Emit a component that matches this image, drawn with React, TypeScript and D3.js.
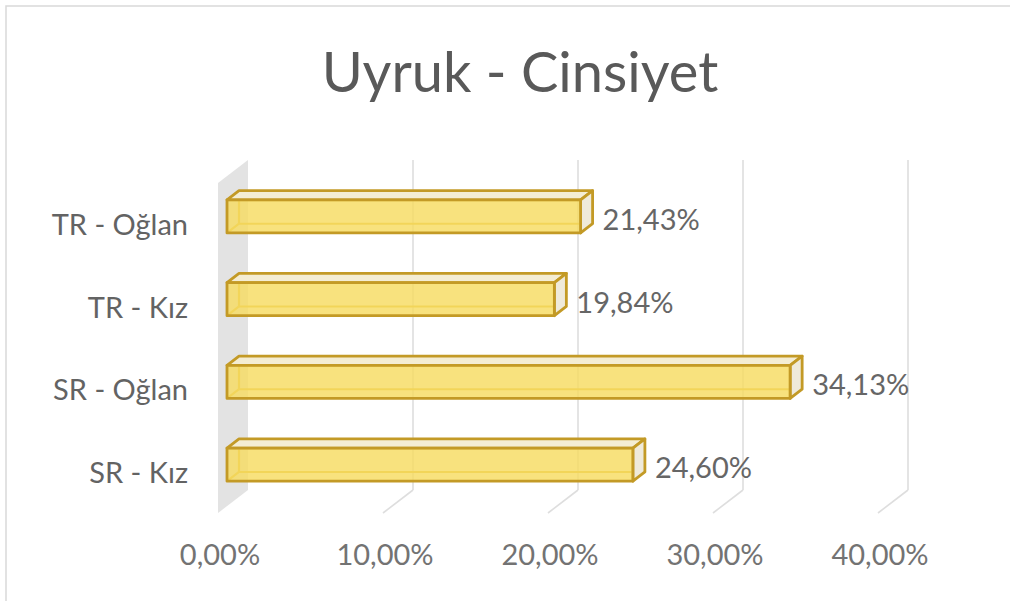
import React from "react";
import * as d3 from "d3";

const categories = ["TR - Oğlan", "TR - Kız", "SR - Oğlan", "SR - Kız"];
const values = [21.43, 19.84, 34.13, 24.6];
const tickValues = [0, 10, 20, 30, 40];
const title = "Uyruk - Cinsiyet";

const W = 1010;
const H = 601;
const fmt = (v: number) => v.toFixed(2).replace(".", ",") + "%";

const NUM_FONT = "'Liberation Sans Narrow', Lato, sans-serif";
const TXT_FONT = "Lato, 'Open Sans', sans-serif";

export default function App() {
  const x = d3.scaleLinear().domain([0, 40]).range([218, 878]);
  const y = d3
    .scaleBand<string>()
    .domain(categories)
    .range([175, 506])
    .paddingInner(0.6)
    .paddingOuter(0.3);
  const bw = y.bandwidth();

  // depth vector of the 3D box (front floor -> back wall)
  const DX = 30;
  const DY = -23;
  const floorFront = 513;
  const wallTopFront = 183;
  const f0 = 0.3;
  const f1 = 0.7;
  const bdx = DX * (f1 - f0);
  const bdy = DY * (f1 - f0);

  const gold = "#C39A26";
  const pts = (p: [number, number][]) => p.map((q) => q.join(",")).join(" ");

  return (
    <svg
      width={W}
      height={H}
      style={{ position: "absolute", left: 0, top: 0, background: "#fff" }}
    >
      <rect x={6} y={6} width={W} height={H} fill="#fff" stroke="#d9d9d9" strokeWidth={1.5} />
      <text
        x={520}
        y={92}
        textAnchor="middle"
        fontFamily={TXT_FONT}
        fontSize={56}
        fill="#595959"
      >
        {title}
      </text>

      {/* side wall */}
      <polygon
        points={pts([
          [x(0), floorFront],
          [x(0) + DX, floorFront + DY],
          [x(0) + DX, wallTopFront + DY],
          [x(0), wallTopFront],
        ])}
        fill="#e3e3e3"
      />
      {/* gridlines: back wall + floor */}
      {tickValues.slice(1).map((t) => (
        <g key={t} stroke="#dedede" strokeWidth={1.6} fill="none">
          <line x1={x(t) + DX} x2={x(t) + DX} y1={wallTopFront + DY} y2={floorFront + DY} />
          <line x1={x(t) + DX} x2={x(t)} y1={floorFront + DY} y2={floorFront} />
        </g>
      ))}

      {/* bars */}
      {categories.map((c, i) => {
        const v = values[i];
        const x0 = x(0) + DX * f0;
        const x1 = x(v) + DX * f0;
        const yt = y(c)!;
        const yb = yt + bw;
        return (
          <g key={c} strokeLinejoin="round">
            {/* hidden back edges */}
            <g stroke="#DDB536" strokeWidth={2.2} fill="none">
              <line x1={x0 + bdx} y1={yt + bdy} x2={x0 + bdx} y2={yb + bdy} />
              <line x1={x0 + bdx} y1={yb + bdy} x2={x1 + bdx} y2={yb + bdy} />
              <line x1={x0} y1={yb} x2={x0 + bdx} y2={yb + bdy} />
            </g>
            {/* top face */}
            <polygon
              points={pts([
                [x0, yt],
                [x0 + bdx, yt + bdy],
                [x1 + bdx, yt + bdy],
                [x1, yt],
              ])}
              fill="#F4EDD3"
              stroke={gold}
              strokeWidth={2.8}
            />
            {/* end face */}
            <polygon
              points={pts([
                [x1, yt],
                [x1 + bdx, yt + bdy],
                [x1 + bdx, yb + bdy],
                [x1, yb],
              ])}
              fill="#EFEADA"
              stroke={gold}
              strokeWidth={2.8}
            />
            {/* front face */}
            <rect
              x={x0}
              y={yt}
              width={x1 - x0}
              height={bw}
              fill="#F7DC62"
              fillOpacity={0.82}
              stroke={gold}
              strokeWidth={2.8}
            />
            <text
              x={x(v) + DX * f1 + 10}
              y={yt + bw / 2 + 2}
              dominantBaseline="central"
              fontFamily={NUM_FONT}
              fontSize={29}
              fill="#666"
            >
              {fmt(v)}
            </text>
            <text
              x={188}
              y={yt + bw / 2 + 18.5}
              textAnchor="end"
              fontFamily={TXT_FONT}
              fontSize={29}
              fill="#636363"
            >
              {c}
            </text>
          </g>
        );
      })}

      {/* x tick labels */}
      {tickValues.map((t) => (
        <text
          key={t}
          x={x(t) + 2}
          y={565}
          textAnchor="middle"
          fontFamily={NUM_FONT}
          fontSize={29}
          fill="#737373"
        >
          {fmt(t)}
        </text>
      ))}
    </svg>
  );
}
